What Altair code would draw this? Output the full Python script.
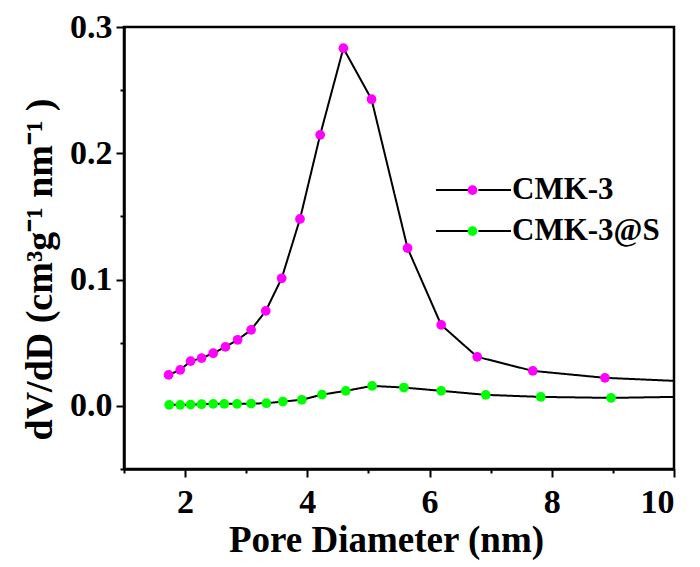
import altair as alt
import pandas as pd

series_names = ["CMK-3", "CMK-3@S"]

cmk3_x = [1.73, 1.92, 2.09, 2.27, 2.46, 2.66, 2.86, 3.08, 3.32, 3.58, 3.88, 4.21, 4.59, 5.05, 5.64, 6.19, 6.78, 7.69, 8.87]
cmk3_y = [0.0245, 0.0285, 0.0354, 0.0378, 0.0417, 0.0467, 0.0523, 0.0602, 0.0752, 0.101, 0.148, 0.2146, 0.2832, 0.2428, 0.1249, 0.0641, 0.0388, 0.0277, 0.0222]
cmk3_end = (10.0, 0.0198)

cmks_x = [1.74, 1.92, 2.09, 2.27, 2.46, 2.64, 2.85, 3.08, 3.33, 3.60, 3.91, 4.24, 4.63, 5.06, 5.58, 6.19, 6.92, 7.82, 8.97]
cmks_y = [0.0008, 0.0008, 0.0010, 0.0013, 0.0016, 0.0016, 0.0016, 0.0018, 0.0021, 0.0034, 0.0048, 0.0089, 0.0119, 0.0158, 0.0145, 0.0119, 0.0087, 0.0071, 0.0063]
cmks_end = (10.0, 0.0071)

x_ticks = [1, 2, 3, 4, 5, 6, 7, 8, 9, 10]
y_ticks = [-0.05, 0.0, 0.05, 0.1, 0.15, 0.2, 0.25, 0.3]

points = pd.DataFrame({
    "x": cmk3_x + cmks_x,
    "y": cmk3_y + cmks_y,
    "series": [series_names[0]] * len(cmk3_x) + [series_names[1]] * len(cmks_x),
})
lines = pd.DataFrame({
    "x": cmk3_x + [cmk3_end[0]] + cmks_x + [cmks_end[0]],
    "y": cmk3_y + [cmk3_end[1]] + cmks_y + [cmks_end[1]],
    "series": [series_names[0]] * (len(cmk3_x) + 1) + [series_names[1]] * (len(cmks_x) + 1),
})

FONT = "Liberation Serif"

x_enc = alt.X("x:Q", scale=alt.Scale(domain=[1, 10], nice=False, zero=False),
              axis=alt.Axis(values=x_ticks, title="Pore Diameter (nm)",
                            labelExpr="datum.value % 2 === 0 ? datum.label : ''",
                            tickSize={"condition": {"test": "datum.value % 2 === 0", "value": 8}, "value": 4},
                            labelPadding=8, titlePadding=3, titleX=262, titleFontSize=37, grid=False))
y_enc = alt.Y("y:Q", scale=alt.Scale(domain=[-0.05, 0.3], nice=False, zero=False),
              axis=alt.Axis(values=y_ticks, title="dV/dD (cm³g⁻¹ nm⁻¹ )",
                            labelExpr="round(datum.value*20) % 2 === 0 ? format(datum.value, '.1f') : ''",
                            tickSize={"condition": {"test": "round(datum.value*20) % 2 === 0", "value": 8}, "value": 4},
                            labelPadding=4, titlePadding=10, grid=False, titleY=242, titleFontSize=38))

legend_common = dict(title=None, orient="none", legendX=311, legendY=145, padding=0,
                     symbolSize=5625, clipHeight=36, rowPadding=5, labelOffset=2,
                     labelFont=FONT, labelFontSize=31, labelFontWeight="bold", labelColor="black")

line_layer = alt.Chart(lines).mark_line(color="black", strokeWidth=2, interpolate="linear").encode(
    x=x_enc, y=y_enc,
    strokeDash=alt.StrokeDash("series:N", scale=alt.Scale(domain=series_names, range=[[1, 0], [1, 0]]),
                              legend=alt.Legend(symbolType="M-1,0L-0.13,0M0.13,0L1,0",
                                                symbolStrokeColor="black", symbolStrokeWidth=2,
                                                labelExpr="''", **legend_common)),
)

point_layer = alt.Chart(points).mark_point(filled=True, size=95, opacity=1).encode(
    x=x_enc, y=y_enc,
    color=alt.Color("series:N", scale=alt.Scale(domain=series_names, range=["#FF00FF", "#00FF00"]),
                    legend=alt.Legend(symbolType="M-0.13,0A0.13,0.13,0,1,1,0.13,0A0.13,0.13,0,1,1,-0.13,0Z",
                                      symbolStrokeWidth=0, symbolOpacity=1, **legend_common)),
)

chart = alt.layer(line_layer, point_layer).resolve_legend(
    strokeDash="independent", color="independent"
).properties(
    width=550, height=442,
    autosize=alt.AutoSizeParams(type="none"),
    padding={"left": 116, "top": 19, "right": 18, "bottom": 98},
    background="white",
).configure_view(
    stroke="black", strokeWidth=2.5
).configure_axis(
    domainColor="black", domainWidth=2.5, tickColor="black", tickWidth=2,
    labelFont=FONT, labelFontSize=34, labelFontWeight="bold", labelColor="black",
    titleFont=FONT, titleFontWeight="bold", titleColor="black",
)

chart.save("out.html", embed_options={"renderer": "svg", "actions": False})
